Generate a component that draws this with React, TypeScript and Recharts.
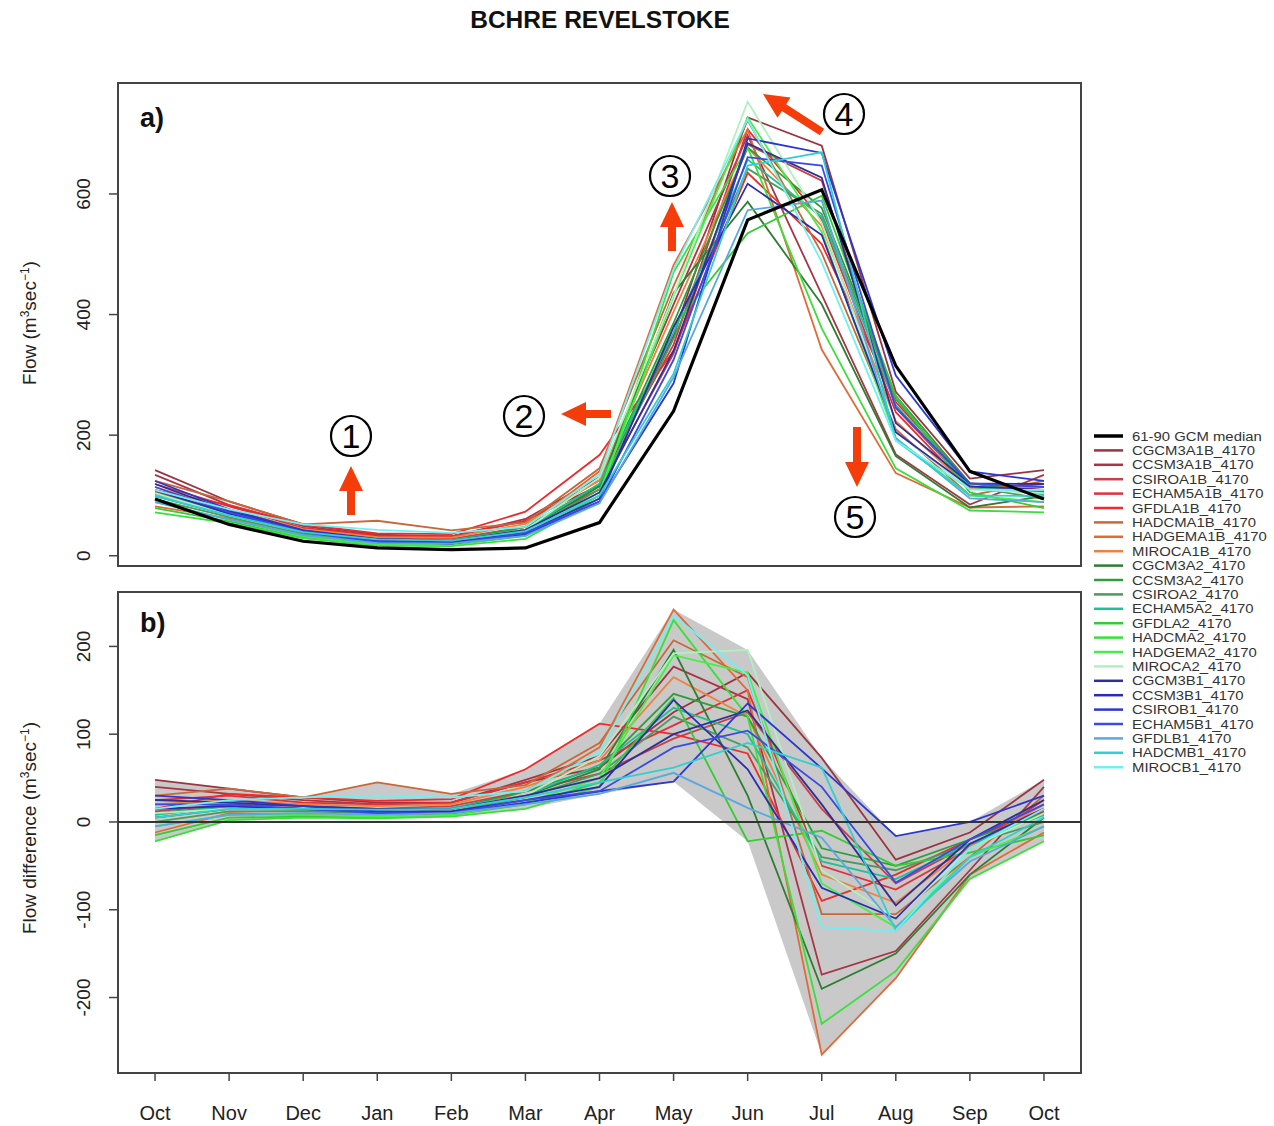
import React from 'react'
import { LineChart, ComposedChart, Line, Area, XAxis, YAxis, ReferenceLine, ReferenceArea } from 'recharts'

const FONT = '"Liberation Sans", Arial, Helvetica, sans-serif'

const months = ['Oct', 'Nov', 'Dec', 'Jan', 'Feb', 'Mar', 'Apr', 'May', 'Jun', 'Jul', 'Aug', 'Sep', 'Oct']

const models = [
  'CGCM3A1B_4170', 'CCSM3A1B_4170', 'CSIROA1B_4170', 'ECHAM5A1B_4170', 'GFDLA1B_4170',
  'HADCMA1B_4170', 'HADGEMA1B_4170', 'MIROCA1B_4170',
  'CGCM3A2_4170', 'CCSM3A2_4170', 'CSIROA2_4170', 'ECHAM5A2_4170', 'GFDLA2_4170',
  'HADCMA2_4170', 'HADGEMA2_4170', 'MIROCA2_4170',
  'CGCM3B1_4170', 'CCSM3B1_4170', 'CSIROB1_4170', 'ECHAM5B1_4170', 'GFDLB1_4170',
  'HADCMB1_4170', 'MIROCB1_4170',
]

const colors = [
  '#9b3440', '#a83545', '#c8404a', '#e0303a', '#f02a2a',
  '#c86838', '#e06a38', '#f08040',
  '#2e7d32', '#2e9e3a', '#4c9a5c', '#20c090', '#33cc33',
  '#3ae03a', '#44f044', '#b0f0c0',
  '#303090', '#2c2cb0', '#2a38d0', '#3a4ae6', '#5aa8e0',
  '#30d0d0', '#70f0f0',
]

// 61-90 GCM median flow (m3/s)
const median = [94, 52, 24, 13, 10, 13, 55, 240, 557, 607, 315, 140, 94]

// 2041-70 flows, one row per model (same order as models)
const flows = [
  [142, 90, 52, 35, 32, 58, 117, 365, 727, 680, 272, 128, 142],
  [134, 84, 49, 33, 32, 61, 130, 417, 697, 433, 168, 85, 134],
  [106, 72, 42, 28, 28, 48, 110, 335, 682, 622, 245, 115, 106],
  [119, 82, 46, 33, 32, 58, 125, 350, 707, 557, 238, 110, 119],
  [109, 84, 52, 37, 36, 73, 167, 340, 635, 517, 255, 120, 109],
  [124, 90, 52, 58, 42, 55, 145, 447, 722, 502, 210, 100, 124],
  [82, 62, 32, 18, 20, 48, 140, 482, 707, 342, 137, 80, 82],
  [114, 77, 44, 31, 30, 53, 125, 405, 677, 547, 223, 112, 114],
  [99, 67, 38, 25, 25, 43, 115, 436, 587, 417, 165, 80, 99],
  [104, 70, 39, 25, 25, 48, 117, 386, 677, 577, 265, 120, 104],
  [94, 64, 36, 23, 22, 41, 110, 360, 642, 567, 260, 115, 94],
  [102, 70, 39, 27, 26, 43, 120, 370, 657, 562, 250, 115, 102],
  [79, 57, 30, 18, 18, 33, 100, 381, 535, 597, 265, 105, 79],
  [72, 54, 29, 17, 16, 28, 95, 470, 677, 377, 145, 75, 72],
  [89, 60, 32, 19, 18, 35, 105, 430, 727, 537, 195, 100, 89],
  [104, 67, 39, 25, 25, 43, 130, 432, 753, 552, 205, 110, 104],
  [119, 74, 42, 28, 25, 43, 105, 340, 684, 627, 220, 120, 119],
  [109, 70, 39, 25, 22, 38, 95, 379, 617, 532, 205, 115, 109],
  [124, 77, 42, 25, 20, 35, 90, 286, 692, 668, 299, 140, 124],
  [114, 72, 39, 23, 20, 38, 90, 325, 661, 647, 246, 120, 114],
  [89, 60, 34, 21, 20, 33, 87, 296, 573, 589, 195, 95, 89],
  [99, 67, 39, 27, 25, 41, 100, 302, 647, 669, 191, 100, 99],
  [109, 77, 52, 43, 38, 48, 135, 475, 724, 487, 191, 110, 109],
]

// flow difference from baseline, one row per model
const diffs = [
  [48, 38, 28, 22, 22, 45, 62, 125, 170, 73, -43, -12, 48],
  [40, 32, 25, 20, 22, 48, 75, 177, 140, -174, -147, -55, 40],
  [12, 20, 18, 15, 18, 35, 55, 95, 125, 15, -70, -25, 12],
  [25, 30, 22, 20, 22, 45, 70, 110, 150, -50, -77, -30, 25],
  [15, 32, 28, 24, 26, 60, 112, 100, 78, -90, -60, -20, 15],
  [30, 38, 28, 45, 32, 42, 90, 207, 165, -105, -105, -40, 30],
  [-12, 10, 8, 5, 10, 35, 85, 242, 150, -265, -178, -60, -12],
  [20, 25, 20, 18, 20, 40, 70, 165, 120, -60, -92, -28, 20],
  [5, 15, 14, 12, 15, 30, 60, 196, 30, -190, -150, -60, 5],
  [10, 18, 15, 12, 15, 35, 62, 146, 120, -30, -50, -20, 10],
  [0, 12, 12, 10, 12, 28, 55, 120, 85, -40, -55, -25, 0],
  [8, 18, 15, 14, 16, 30, 65, 130, 100, -45, -65, -25, 8],
  [-15, 5, 6, 5, 8, 20, 45, 141, -22, -10, -50, -35, -15],
  [-22, 2, 5, 4, 6, 15, 40, 230, 120, -230, -170, -65, -22],
  [-5, 8, 8, 6, 8, 22, 50, 190, 170, -70, -120, -40, -5],
  [10, 15, 15, 12, 15, 30, 75, 192, 196, -55, -110, -30, 10],
  [25, 22, 18, 15, 15, 30, 50, 100, 127, 20, -95, -20, 25],
  [15, 18, 15, 12, 12, 25, 40, 139, 60, -75, -110, -25, 15],
  [30, 25, 18, 12, 10, 22, 35, 46, 135, 61, -16, 0, 30],
  [20, 20, 15, 10, 10, 25, 35, 85, 104, 40, -69, -20, 20],
  [-5, 8, 10, 8, 10, 20, 32, 56, 16, -18, -120, -45, -5],
  [5, 15, 15, 14, 15, 28, 45, 62, 90, 62, -124, -40, 5],
  [15, 25, 28, 30, 28, 35, 80, 235, 167, -120, -124, -30, 15],
]

const flowTicks = [0, 200, 400, 600]
const diffTicks = [-200, -100, 0, 100, 200]
const flowDomain = [-17, 784]
const diffDomain = [-286, 262]
const xIdx = months.map((_, i) => i)

const flowRows = months.map((m, i) => {
  const row: Record<string, any> = { i, month: m, median: median[i] }
  models.forEach((name, k) => { row[name] = flows[k][i] })
  return row
})

const diffRows = months.map((m, i) => {
  const vals = diffs.map(d => d[i])
  const row: Record<string, any> = { i, month: m, band: [Math.min(...vals), Math.max(...vals)] }
  models.forEach((name, k) => { row[name] = diffs[k][i] })
  return row
})

function RotTick(props: any) {
  const { x, y, payload } = props
  return (
    <text x={x} y={y} transform={`rotate(-90 ${x} ${y})`} textAnchor="middle"
      fontSize={19} fontFamily={FONT} fill="#222">
      {String(payload.value)}
    </text>
  )
}

// arrow polygon from tail to tip
function arrowPoints(tx: number, ty: number, hx: number, hy: number) {
  const dx = hx - tx, dy = hy - ty
  const len = Math.sqrt(dx * dx + dy * dy)
  const ux = dx / len, uy = dy / len
  const px = -uy, py = ux
  const headLen = 25, headW = 12, shaftW = 4
  const bx = hx - ux * headLen, by = hy - uy * headLen
  const pts = [
    [hx, hy],
    [bx + px * headW, by + py * headW],
    [bx + px * shaftW, by + py * shaftW],
    [tx + px * shaftW, ty + py * shaftW],
    [tx - px * shaftW, ty - py * shaftW],
    [bx - px * shaftW, by - py * shaftW],
    [bx - px * headW, by - py * headW],
  ]
  return pts.map(p => p.join(',')).join(' ')
}

const arrows = [
  [351, 515, 351, 466],
  [611, 414, 561, 414],
  [672, 251, 672, 202],
  [822, 132, 763, 94],
  [857, 427, 857, 487],
]

const circled = [
  { n: '1', x: 351, y: 436 },
  { n: '2', x: 524, y: 416 },
  { n: '3', x: 670, y: 176 },
  { n: '4', x: 844, y: 114 },
  { n: '5', x: 855, y: 517 },
]

const ARROW = '#f53d0c'

export default function App() {
  const legendItems = [{ name: '61-90 GCM median', color: '#000' }, ...models.map((m, k) => ({ name: m, color: colors[k] }))]
  return (
    <div style={{ position: 'absolute', left: 0, top: 0, width: 1274, height: 1126, background: '#fff' }}>
      <div style={{ position: 'absolute', left: 0, top: 0 }}>
        <LineChart width={1090} height={590} data={flowRows} margin={{ top: 83, right: 9, bottom: 0, left: 0 }}>
          <XAxis dataKey="i" type="number" domain={[-0.5, 12.5]} ticks={xIdx} tick={false}
            axisLine={false} tickLine={{ stroke: '#444', strokeWidth: 1.5 }} tickSize={9} height={24} />
          <YAxis type="number" domain={flowDomain} ticks={flowTicks} tick={<RotTick />} width={118}
            axisLine={false} tickLine={{ stroke: '#444', strokeWidth: 1.5 }} tickSize={9} tickMargin={19} />
          <ReferenceArea x1={-0.5} x2={12.5} y1={flowDomain[0]} y2={flowDomain[1]} fill="none"
            fillOpacity={0} stroke="#444" strokeWidth={2} />
          {models.map((m, k) => (
            <Line key={m} dataKey={m} stroke={colors[k]} strokeWidth={1.8} dot={false} activeDot={false}
              isAnimationActive={false} />
          ))}
          <Line dataKey="median" stroke="#000" strokeWidth={3.2} dot={false} activeDot={false}
            isAnimationActive={false} />
        </LineChart>
      </div>
      <div style={{ position: 'absolute', left: 0, top: 580 }}>
        <ComposedChart width={1090} height={546} data={diffRows} margin={{ top: 12, right: 9, bottom: 0, left: 0 }}>
          <XAxis dataKey="i" type="number" domain={[-0.5, 12.5]} ticks={xIdx}
            tickFormatter={(v: number) => months[v]} tick={{ fontSize: 20, fill: '#222', fontFamily: FONT }}
            axisLine={false} tickLine={{ stroke: '#444', strokeWidth: 1.5 }} tickSize={8} tickMargin={25} height={53} />
          <YAxis type="number" domain={diffDomain} ticks={diffTicks} tick={<RotTick />} width={118}
            axisLine={false} tickLine={{ stroke: '#444', strokeWidth: 1.5 }} tickSize={9} tickMargin={19} />
          <Area dataKey="band" stroke="none" fill="#c9c9c9" fillOpacity={1} isAnimationActive={false} />
          <ReferenceArea x1={-0.5} x2={12.5} y1={diffDomain[0]} y2={diffDomain[1]} fill="none"
            fillOpacity={0} stroke="#444" strokeWidth={2} />
          {models.map((m, k) => (
            <Line key={m} dataKey={m} stroke={colors[k]} strokeWidth={1.8} dot={false} activeDot={false}
              isAnimationActive={false} />
          ))}
          <ReferenceLine y={0} stroke="#333" strokeWidth={2} />
        </ComposedChart>
      </div>
      <svg width={1274} height={1126} style={{ position: 'absolute', left: 0, top: 0, pointerEvents: 'none' }}>
        <text x={600} y={28} textAnchor="middle" fontSize={24.5} fontWeight="bold" fontFamily={FONT} fill="#111">
          BCHRE REVELSTOKE
        </text>
        <text x={140} y={127} fontSize={27} fontWeight="bold" fontFamily={FONT} fill="#111">a)</text>
        <text x={140} y={632} fontSize={27} fontWeight="bold" fontFamily={FONT} fill="#111">b)</text>
        <text x={36} y={323} transform="rotate(-90 36 323)" textAnchor="middle" fontSize={19} fontFamily={FONT} fill="#222">
          Flow (m<tspan dy={-7} fontSize={12}>3</tspan><tspan dy={7}>sec</tspan><tspan dy={-7} fontSize={12}>−1</tspan><tspan dy={7}>)</tspan>
        </text>
        <text x={36} y={828} transform="rotate(-90 36 828)" textAnchor="middle" fontSize={19} fontFamily={FONT} fill="#222">
          Flow difference (m<tspan dy={-7} fontSize={12}>3</tspan><tspan dy={7}>sec</tspan><tspan dy={-7} fontSize={12}>−1</tspan><tspan dy={7}>)</tspan>
        </text>
        {arrows.map((a, k) => (
          <polygon key={k} points={arrowPoints(a[0], a[1], a[2], a[3])} fill={ARROW} />
        ))}
        {circled.map(c => (
          <g key={c.n}>
            <circle cx={c.x} cy={c.y} r={20} fill="none" stroke="#000" strokeWidth={2.2} />
            <text x={c.x} y={c.y + 12} textAnchor="middle" fontSize={34} fontFamily={FONT} fill="#000">{c.n}</text>
          </g>
        ))}
        {legendItems.map((it, k) => {
          const y = 436 + k * 14.4
          return (
            <g key={it.name}>
              <line x1={1094} x2={1123} y1={y} y2={y} stroke={it.color} strokeWidth={k === 0 ? 3.5 : 2.5} />
              <text transform={`translate(1132 ${y + 4.5}) scale(1.22 1)`} fontSize={12.2} fontFamily={FONT} fill="#333">
                {it.name}
              </text>
            </g>
          )
        })}
      </svg>
    </div>
  )
}
